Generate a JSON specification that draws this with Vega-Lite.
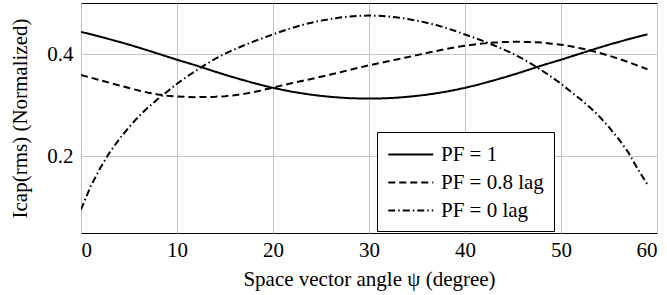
{
  "$schema": "https://vega.github.io/schema/vega-lite/v6.json",
  "width": 576,
  "height": 230,
  "autosize": {"type": "none"},
  "padding": {"left": 81, "top": 3, "right": 10, "bottom": 62},
  "background": "white",
  "config": {
    "font": "Liberation Serif",
    "view": {"stroke": "black", "strokeWidth": 1},
    "axis": {
      "labelFont": "Liberation Serif",
      "titleFont": "Liberation Serif",
      "labelFontSize": 21,
      "titleFontSize": 21,
      "labelColor": "black",
      "titleColor": "black",
      "titleFontWeight": "normal",
      "gridColor": "#c4c4c4",
      "gridWidth": 1,
      "gridOpacity": 1,
      "domain": false,
      "ticks": false
    }
  },
  "datasets": {
    "curves": [
      {"psi":0,"I":0.4435,"PF":"PF = 1"},{"psi":1,"I":0.4388,"PF":"PF = 1"},{"psi":2,"I":0.4340,"PF":"PF = 1"},{"psi":3,"I":0.4290,"PF":"PF = 1"},{"psi":4,"I":0.4238,"PF":"PF = 1"},{"psi":5,"I":0.4185,"PF":"PF = 1"},{"psi":6,"I":0.4128,"PF":"PF = 1"},{"psi":7,"I":0.4070,"PF":"PF = 1"},{"psi":8,"I":0.4010,"PF":"PF = 1"},{"psi":9,"I":0.3950,"PF":"PF = 1"},
      {"psi":10,"I":0.3890,"PF":"PF = 1"},{"psi":11,"I":0.3834,"PF":"PF = 1"},{"psi":12,"I":0.3777,"PF":"PF = 1"},{"psi":13,"I":0.3716,"PF":"PF = 1"},{"psi":14,"I":0.3655,"PF":"PF = 1"},{"psi":15,"I":0.3596,"PF":"PF = 1"},{"psi":16,"I":0.3540,"PF":"PF = 1"},{"psi":17,"I":0.3486,"PF":"PF = 1"},{"psi":18,"I":0.3434,"PF":"PF = 1"},{"psi":19,"I":0.3385,"PF":"PF = 1"},
      {"psi":20,"I":0.3340,"PF":"PF = 1"},{"psi":21,"I":0.3300,"PF":"PF = 1"},{"psi":22,"I":0.3264,"PF":"PF = 1"},{"psi":23,"I":0.3233,"PF":"PF = 1"},{"psi":24,"I":0.3206,"PF":"PF = 1"},{"psi":25,"I":0.3183,"PF":"PF = 1"},{"psi":26,"I":0.3164,"PF":"PF = 1"},{"psi":27,"I":0.3149,"PF":"PF = 1"},{"psi":28,"I":0.3138,"PF":"PF = 1"},{"psi":29,"I":0.3132,"PF":"PF = 1"},
      {"psi":30,"I":0.3130,"PF":"PF = 1"},{"psi":31,"I":0.3132,"PF":"PF = 1"},{"psi":32,"I":0.3138,"PF":"PF = 1"},{"psi":33,"I":0.3149,"PF":"PF = 1"},{"psi":34,"I":0.3164,"PF":"PF = 1"},{"psi":35,"I":0.3183,"PF":"PF = 1"},{"psi":36,"I":0.3206,"PF":"PF = 1"},{"psi":37,"I":0.3233,"PF":"PF = 1"},{"psi":38,"I":0.3264,"PF":"PF = 1"},{"psi":39,"I":0.3300,"PF":"PF = 1"},
      {"psi":40,"I":0.3340,"PF":"PF = 1"},{"psi":41,"I":0.3385,"PF":"PF = 1"},{"psi":42,"I":0.3434,"PF":"PF = 1"},{"psi":43,"I":0.3486,"PF":"PF = 1"},{"psi":44,"I":0.3540,"PF":"PF = 1"},{"psi":45,"I":0.3596,"PF":"PF = 1"},{"psi":46,"I":0.3655,"PF":"PF = 1"},{"psi":47,"I":0.3716,"PF":"PF = 1"},{"psi":48,"I":0.3777,"PF":"PF = 1"},{"psi":49,"I":0.3834,"PF":"PF = 1"},
      {"psi":50,"I":0.3890,"PF":"PF = 1"},{"psi":51,"I":0.3950,"PF":"PF = 1"},{"psi":52,"I":0.4010,"PF":"PF = 1"},{"psi":53,"I":0.4070,"PF":"PF = 1"},{"psi":54,"I":0.4128,"PF":"PF = 1"},{"psi":55,"I":0.4185,"PF":"PF = 1"},{"psi":56,"I":0.4238,"PF":"PF = 1"},{"psi":57,"I":0.4290,"PF":"PF = 1"},{"psi":58,"I":0.4340,"PF":"PF = 1"},{"psi":59,"I":0.4388,"PF":"PF = 1"},

      {"psi":0,"I":0.3590,"PF":"PF = 0.8 lag"},{"psi":1,"I":0.3540,"PF":"PF = 0.8 lag"},{"psi":2,"I":0.3489,"PF":"PF = 0.8 lag"},{"psi":3,"I":0.3438,"PF":"PF = 0.8 lag"},{"psi":4,"I":0.3387,"PF":"PF = 0.8 lag"},{"psi":5,"I":0.3336,"PF":"PF = 0.8 lag"},{"psi":6,"I":0.3288,"PF":"PF = 0.8 lag"},{"psi":7,"I":0.3246,"PF":"PF = 0.8 lag"},{"psi":8,"I":0.3210,"PF":"PF = 0.8 lag"},{"psi":9,"I":0.3186,"PF":"PF = 0.8 lag"},
      {"psi":10,"I":0.3170,"PF":"PF = 0.8 lag"},{"psi":11,"I":0.3162,"PF":"PF = 0.8 lag"},{"psi":12,"I":0.3158,"PF":"PF = 0.8 lag"},{"psi":13,"I":0.3160,"PF":"PF = 0.8 lag"},{"psi":14,"I":0.3166,"PF":"PF = 0.8 lag"},{"psi":15,"I":0.3177,"PF":"PF = 0.8 lag"},{"psi":16,"I":0.3195,"PF":"PF = 0.8 lag"},{"psi":17,"I":0.3222,"PF":"PF = 0.8 lag"},{"psi":18,"I":0.3257,"PF":"PF = 0.8 lag"},{"psi":19,"I":0.3300,"PF":"PF = 0.8 lag"},
      {"psi":20,"I":0.3345,"PF":"PF = 0.8 lag"},{"psi":21,"I":0.3390,"PF":"PF = 0.8 lag"},{"psi":22,"I":0.3433,"PF":"PF = 0.8 lag"},{"psi":23,"I":0.3475,"PF":"PF = 0.8 lag"},{"psi":24,"I":0.3515,"PF":"PF = 0.8 lag"},{"psi":25,"I":0.3557,"PF":"PF = 0.8 lag"},{"psi":26,"I":0.3601,"PF":"PF = 0.8 lag"},{"psi":27,"I":0.3646,"PF":"PF = 0.8 lag"},{"psi":28,"I":0.3692,"PF":"PF = 0.8 lag"},{"psi":29,"I":0.3737,"PF":"PF = 0.8 lag"},
      {"psi":30,"I":0.3780,"PF":"PF = 0.8 lag"},{"psi":31,"I":0.3820,"PF":"PF = 0.8 lag"},{"psi":32,"I":0.3860,"PF":"PF = 0.8 lag"},{"psi":33,"I":0.3900,"PF":"PF = 0.8 lag"},{"psi":34,"I":0.3940,"PF":"PF = 0.8 lag"},{"psi":35,"I":0.3980,"PF":"PF = 0.8 lag"},{"psi":36,"I":0.4020,"PF":"PF = 0.8 lag"},{"psi":37,"I":0.4060,"PF":"PF = 0.8 lag"},{"psi":38,"I":0.4100,"PF":"PF = 0.8 lag"},{"psi":39,"I":0.4135,"PF":"PF = 0.8 lag"},
      {"psi":40,"I":0.4165,"PF":"PF = 0.8 lag"},{"psi":41,"I":0.4190,"PF":"PF = 0.8 lag"},{"psi":42,"I":0.4210,"PF":"PF = 0.8 lag"},{"psi":43,"I":0.4225,"PF":"PF = 0.8 lag"},{"psi":44,"I":0.4235,"PF":"PF = 0.8 lag"},{"psi":45,"I":0.4240,"PF":"PF = 0.8 lag"},{"psi":46,"I":0.4240,"PF":"PF = 0.8 lag"},{"psi":47,"I":0.4235,"PF":"PF = 0.8 lag"},{"psi":48,"I":0.4225,"PF":"PF = 0.8 lag"},{"psi":49,"I":0.4205,"PF":"PF = 0.8 lag"},
      {"psi":50,"I":0.4185,"PF":"PF = 0.8 lag"},{"psi":51,"I":0.4155,"PF":"PF = 0.8 lag"},{"psi":52,"I":0.4115,"PF":"PF = 0.8 lag"},{"psi":53,"I":0.4075,"PF":"PF = 0.8 lag"},{"psi":54,"I":0.4025,"PF":"PF = 0.8 lag"},{"psi":55,"I":0.3970,"PF":"PF = 0.8 lag"},{"psi":56,"I":0.3910,"PF":"PF = 0.8 lag"},{"psi":57,"I":0.3845,"PF":"PF = 0.8 lag"},{"psi":58,"I":0.3775,"PF":"PF = 0.8 lag"},{"psi":59,"I":0.3705,"PF":"PF = 0.8 lag"},

      {"psi":0,"I":0.0960,"PF":"PF = 0 lag"},{"psi":1,"I":0.1410,"PF":"PF = 0 lag"},{"psi":2,"I":0.1770,"PF":"PF = 0 lag"},{"psi":3,"I":0.2080,"PF":"PF = 0 lag"},{"psi":4,"I":0.2340,"PF":"PF = 0 lag"},{"psi":5,"I":0.2570,"PF":"PF = 0 lag"},{"psi":6,"I":0.2780,"PF":"PF = 0 lag"},{"psi":7,"I":0.2960,"PF":"PF = 0 lag"},{"psi":8,"I":0.3120,"PF":"PF = 0 lag"},{"psi":9,"I":0.3270,"PF":"PF = 0 lag"},
      {"psi":10,"I":0.3420,"PF":"PF = 0 lag"},{"psi":11,"I":0.3555,"PF":"PF = 0 lag"},{"psi":12,"I":0.3680,"PF":"PF = 0 lag"},{"psi":13,"I":0.3800,"PF":"PF = 0 lag"},{"psi":14,"I":0.3910,"PF":"PF = 0 lag"},{"psi":15,"I":0.4008,"PF":"PF = 0 lag"},{"psi":16,"I":0.4093,"PF":"PF = 0 lag"},{"psi":17,"I":0.4173,"PF":"PF = 0 lag"},{"psi":18,"I":0.4248,"PF":"PF = 0 lag"},{"psi":19,"I":0.4318,"PF":"PF = 0 lag"},
      {"psi":20,"I":0.4385,"PF":"PF = 0 lag"},{"psi":21,"I":0.4451,"PF":"PF = 0 lag"},{"psi":22,"I":0.4513,"PF":"PF = 0 lag"},{"psi":23,"I":0.4568,"PF":"PF = 0 lag"},{"psi":24,"I":0.4615,"PF":"PF = 0 lag"},{"psi":25,"I":0.4655,"PF":"PF = 0 lag"},{"psi":26,"I":0.4688,"PF":"PF = 0 lag"},{"psi":27,"I":0.4715,"PF":"PF = 0 lag"},{"psi":28,"I":0.4737,"PF":"PF = 0 lag"},{"psi":29,"I":0.4750,"PF":"PF = 0 lag"},
      {"psi":30,"I":0.4755,"PF":"PF = 0 lag"},{"psi":31,"I":0.4750,"PF":"PF = 0 lag"},{"psi":32,"I":0.4737,"PF":"PF = 0 lag"},{"psi":33,"I":0.4715,"PF":"PF = 0 lag"},{"psi":34,"I":0.4688,"PF":"PF = 0 lag"},{"psi":35,"I":0.4655,"PF":"PF = 0 lag"},{"psi":36,"I":0.4615,"PF":"PF = 0 lag"},{"psi":37,"I":0.4568,"PF":"PF = 0 lag"},{"psi":38,"I":0.4513,"PF":"PF = 0 lag"},{"psi":39,"I":0.4451,"PF":"PF = 0 lag"},
      {"psi":40,"I":0.4385,"PF":"PF = 0 lag"},{"psi":41,"I":0.4318,"PF":"PF = 0 lag"},{"psi":42,"I":0.4248,"PF":"PF = 0 lag"},{"psi":43,"I":0.4173,"PF":"PF = 0 lag"},{"psi":44,"I":0.4093,"PF":"PF = 0 lag"},{"psi":45,"I":0.4008,"PF":"PF = 0 lag"},{"psi":46,"I":0.3910,"PF":"PF = 0 lag"},{"psi":47,"I":0.3800,"PF":"PF = 0 lag"},{"psi":48,"I":0.3680,"PF":"PF = 0 lag"},{"psi":49,"I":0.3555,"PF":"PF = 0 lag"},
      {"psi":50,"I":0.3420,"PF":"PF = 0 lag"},{"psi":51,"I":0.3270,"PF":"PF = 0 lag"},{"psi":52,"I":0.3120,"PF":"PF = 0 lag"},{"psi":53,"I":0.2960,"PF":"PF = 0 lag"},{"psi":54,"I":0.2780,"PF":"PF = 0 lag"},{"psi":55,"I":0.2570,"PF":"PF = 0 lag"},{"psi":56,"I":0.2340,"PF":"PF = 0 lag"},{"psi":57,"I":0.2080,"PF":"PF = 0 lag"},{"psi":58,"I":0.1750,"PF":"PF = 0 lag"},{"psi":59,"I":0.1450,"PF":"PF = 0 lag"}
    ]
  },
  "data": {"name": "curves"},
  "mark": {"type": "line", "color": "black", "strokeWidth": 2, "clip": true},
  "encoding": {
    "x": {
      "field": "psi",
      "type": "quantitative",
      "scale": {"domain": [0, 60], "nice": false, "zero": false},
      "axis": {"values": [0, 10, 20, 30, 40, 50, 60], "title": "Space vector angle ψ (degree)", "labelPadding": 6, "titlePadding": 8}
    },
    "y": {
      "field": "I",
      "type": "quantitative",
      "scale": {"domain": [0.05, 0.5], "nice": false, "zero": false},
      "axis": {"values": [0.2, 0.4], "format": ".1f", "title": "Icap(rms) (Normalized)", "labelPadding": 8, "titlePadding": 16}
    },
    "strokeDash": {
      "field": "PF",
      "type": "nominal",
      "sort": ["PF = 1", "PF = 0.8 lag", "PF = 0 lag"],
      "scale": {"domain": ["PF = 1", "PF = 0.8 lag", "PF = 0 lag"], "range": [[1, 0], [7, 4], [7, 3, 1.5, 3]]},
      "legend": {
        "title": null,
        "orient": "none",
        "legendX": 296,
        "legendY": 129,
        "fillColor": "white",
        "strokeColor": "black",
        "padding": 10,
        "symbolType": "M-1,0H3",
        "symbolSize": 506,
        "symbolStrokeWidth": 2,
        "symbolStrokeColor": "black",
        "labelFont": "Liberation Serif",
        "labelFontSize": 21,
        "labelColor": "black",
        "labelOffset": 29,
        "rowPadding": 5
      }
    }
  }
}
